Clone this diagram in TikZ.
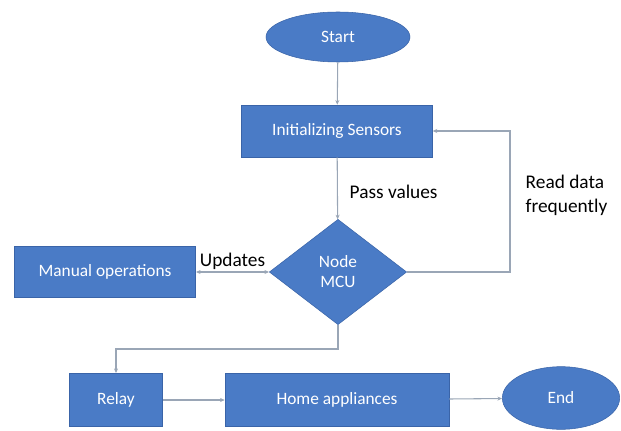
\documentclass[tikz,border=0pt]{standalone}
\usepackage{fontspec}
\setmainfont{Carlito}
\usepackage{tikz}
\usetikzlibrary{shapes.geometric,arrows.meta}
\definecolor{boxblue}{HTML}{4A7BC6}
\definecolor{boxedge}{HTML}{3A64A8}
\definecolor{wire}{HTML}{9AA6B6}
\tikzstyle{Block}=[rectangle, fill=boxblue, draw=boxedge, text=white, font=\fontsize{13}{15}\selectfont, align=center]
\tikzstyle{Terminal}=[ellipse, fill=boxblue, draw=boxedge, text=white, font=\fontsize{13}{15}\selectfont, inner sep=0pt]
\tikzstyle{Decision}=[diamond, fill=boxblue, draw=boxedge, text=white, font=\fontsize{13}{15}\selectfont, align=center, inner sep=0pt]
\tikzstyle{Wire}=[draw=wire, line width=0.8pt, -{Stealth[length=3.5pt,width=3pt]}]
\tikzstyle{Tag}=[font=\fontsize{14.5}{18}\selectfont, align=left]

\begin{document}
\begin{tikzpicture}[x=0.75pt, y=-0.75pt]
    \useasboundingbox (0,0) rectangle (621,431);
    \path
    (338,37) node[Terminal, minimum width=108pt, minimum height=37.5pt] (start) {Start}
    (337,131) node[Block, minimum width=143pt, minimum height=39pt] (init) {Initializing Sensors}
    (338,272) node[Decision, minimum width=103pt, minimum height=79pt] (mcu) {Node\\MCU}
    (105,272) node[Block, minimum width=136pt, minimum height=38pt] (manual) {Manual operations}
    (116,400) node[Block, minimum width=70pt, minimum height=40pt] (relay) {Relay}
    (337,400) node[Block, minimum width=168pt, minimum height=40pt] (home) {Home appliances}
    (561,398) node[Terminal, minimum width=88pt, minimum height=47pt] (end) {End};

    \coordinate (loop) at (510,131);
    \coordinate (turn) at (338,349);

    \path (345,192) node[Tag, anchor=west] (pass) {Pass values}
    (521,195) node[Tag, anchor=west] (read) {Read data\\frequently};

    \draw[Wire] (start) -- (init);
    \draw[Wire] (init) -- (mcu);
    \draw[Wire] (mcu.east) -| (loop) -- (init.east);
    \draw[Wire, {Stealth[length=3.5pt,width=3pt]}-{Stealth[length=3.5pt,width=3pt]}] (manual.east) -- node[Tag, above=-2pt] (upd) {Updates} (mcu.west);
    \draw[Wire] (mcu.south) -- (turn) -| (relay.north);
    \draw[Wire] (relay) -- (home);
    \draw[Wire] (home) -- (end);
\end{tikzpicture}
\end{document}
